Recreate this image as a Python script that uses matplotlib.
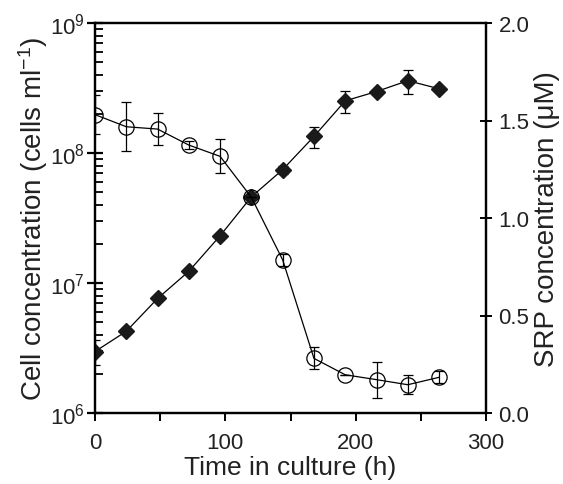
import matplotlib
matplotlib.use("Agg")
import matplotlib.pyplot as plt
from matplotlib.ticker import MultipleLocator, LogLocator, NullFormatter, FixedLocator

plt.rcParams['font.family'] = ['Liberation Sans', 'DejaVu Sans']
plt.rcParams['mathtext.fontset'] = 'custom'
plt.rcParams['mathtext.rm'] = 'Liberation Sans'
plt.rcParams['mathtext.it'] = 'Liberation Sans:italic'

time_h = [0, 24, 48, 72, 96, 120, 144, 168, 192, 216, 240, 264]
cells = [2.97e6, 4.25e6, 7.6e6, 1.23e7, 2.31e7, 4.6e7, 7.45e7, 1.34e8, 2.52e8, 2.97e8, 3.6e8, 3.12e8]
cells_err = [0.65e6, 0, 0, 0, 0, 0, 0.5e7, 0.24e8, 0.5e8, 0, 0.75e8, 0]
srp = [1.53, 1.468, 1.456, 1.374, 1.316, 1.106, 0.785, 0.28, 0.196, 0.171, 0.145, 0.183]
srp_err = [0.10, 0.125, 0.08, 0.02, 0.087, 0.0, 0.03, 0.056, 0.0, 0.093, 0.05, 0.03]

txt = '#222222'
fig = plt.figure(figsize=(5.63, 4.85), dpi=100)
ax = fig.add_axes([95/563, 1-414/485, (486-95)/563, (414-24)/485])
ax2 = ax.twinx()

ax.errorbar(time_h, cells, yerr=cells_err, fmt='-', marker='D', color='black',
            markersize=7.8, linewidth=0.9, elinewidth=0.9, capsize=3.5, capthick=0.9,
            markerfacecolor='#1a1a1a', markeredgecolor='#1a1a1a', zorder=3)
ax2.errorbar(time_h, srp, yerr=srp_err, fmt='-', marker='o', color='black',
             markersize=11, linewidth=0.9, elinewidth=0.9, capsize=3.5, capthick=0.9,
             markerfacecolor='none', markeredgecolor='black', markeredgewidth=0.9, zorder=3)

ax.set_yscale('log')
ax.set_ylim(1e6, 1e9)
ax.set_xlim(0, 300)
ax2.set_ylim(0, 2.0)

for a in (ax, ax2):
    for s in a.spines.values():
        s.set_linewidth(1.6)

ax.xaxis.set_major_locator(FixedLocator([0, 100, 200, 300]))
ax.xaxis.set_minor_locator(FixedLocator([50, 150, 250]))
ax.tick_params(axis='x', which='both', direction='out', length=6, width=1.4,
               labelsize=16, pad=8, labelcolor=txt)
ax.yaxis.set_major_locator(LogLocator(base=10, numticks=10))
ax.yaxis.set_minor_locator(LogLocator(base=10, subs=range(2, 10), numticks=20))
ax.yaxis.set_minor_formatter(NullFormatter())
ax.tick_params(axis='y', which='major', direction='inout', length=11, width=1.6,
               labelsize=16, pad=2, labelcolor=txt)
ax.tick_params(axis='y', which='minor', direction='in', length=5.5, width=1.3)

ax2.yaxis.set_major_locator(MultipleLocator(0.5))
ax2.yaxis.set_major_formatter(matplotlib.ticker.FormatStrFormatter('%.1f'))
ax2.tick_params(axis='y', which='major', direction='inout', length=8, width=1.4,
                labelsize=16, pad=5, labelcolor=txt)

ax.set_xlabel('Time in culture (h)', fontsize=19, labelpad=1, color=txt)
ax.set_ylabel('Cell concentration (cells ml$^{-1}$)', fontsize=20, labelpad=0, color=txt)
ax2.set_ylabel('SRP concentration (μM)', fontsize=20, labelpad=3, color=txt)

fig.savefig('out.png', dpi=100)
